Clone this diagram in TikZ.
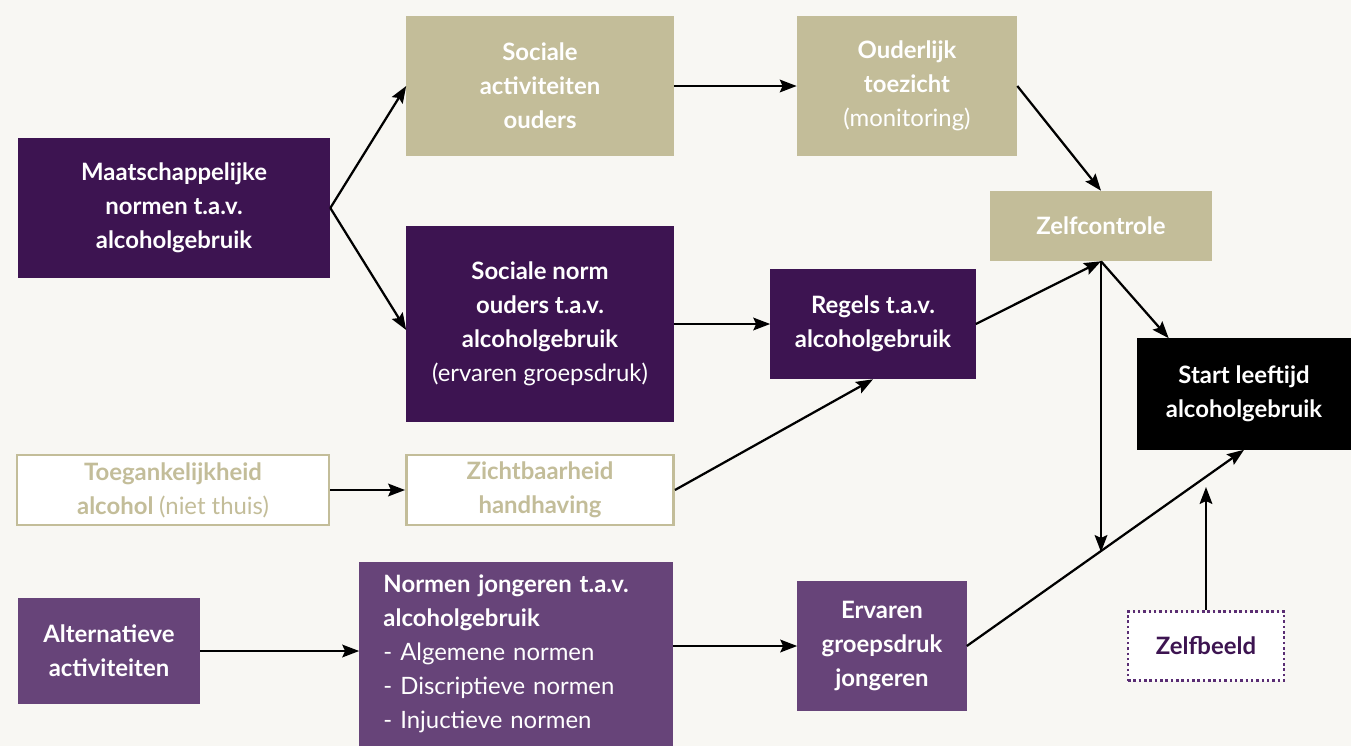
\documentclass[tikz,border=0pt]{standalone}
\usepackage{fontspec}
\setmainfont{Lato}
\usetikzlibrary{arrows.meta}

\definecolor{bgcol}{HTML}{F8F7F3}
\definecolor{tancol}{HTML}{C3BD99}
\definecolor{darkpurple}{HTML}{3D1451}
\definecolor{midpurple}{HTML}{674479}
\definecolor{dotpurple}{HTML}{5A2D73}

\begin{document}
\begin{tikzpicture}[x=0.025cm,y=-0.025cm,
	box/.style={inner sep=0pt,align=center,text=white,font=\fontsize{17}{24.1}\selectfont\bfseries},
	tanbox/.style={box,fill=tancol},
	darkbox/.style={box,fill=darkpurple},
	midbox/.style={box,fill=midpurple},
	blackbox/.style={box,fill=black},
	openbox/.style={box,fill=white,draw=tancol,line width=2pt,text=tancol},
	dotbox/.style={box,fill=white,draw=dotpurple,line width=1.8pt,dotted,text=darkpurple},
	arr/.style={line width=1.6pt,-{Stealth[length=12pt,width=9pt,inset=2pt]}}]
	\fill[bgcol] (0,0) rectangle (1351,746);
	\useasboundingbox (0,0) rectangle (1351,746);

	% bovenste rij
	\node[darkbox,minimum width=7.8cm,minimum height=3.5cm] (maat) at (174,208) {Maatschappelijke\\normen t.a.v.\\alcoholgebruik};
	\node[tanbox,minimum width=6.675cm,minimum height=3.475cm] (socact) at (540,86) {Sociale\\activiteiten\\ouders};
	\node[tanbox,minimum width=5.5cm,minimum height=3.475cm] (ouder) at (907,86) {Ouderlijk\\toezicht\\{\mdseries(monitoring)}};
	\node[tanbox,minimum width=5.525cm,minimum height=1.75cm] (zelfc) at (1101,226) {Zelfcontrole};

	% midden
	\node[darkbox,minimum width=6.675cm,minimum height=4.875cm] (socnorm) at (540,324) {Sociale norm\\ouders t.a.v.\\alcoholgebruik\\{\mdseries(ervaren groepsdruk)}};
	\node[darkbox,minimum width=5.125cm,minimum height=2.75cm] (regels) at (873,324) {Regels t.a.v.\\alcoholgebruik};
	\node[blackbox,minimum width=5.35cm,minimum height=2.775cm] (start) at (1244,394) {Start leeftijd\\alcoholgebruik};

	\node[openbox,minimum width=7.8cm,minimum height=1.75cm] (toeg) at (173,490) {Toegankelijkheid\\alcohol {\mdseries(niet thuis)}};
	\node[openbox,minimum width=6.675cm,minimum height=1.75cm] (zicht) at (540,490) {Zichtbaarheid\\handhaving};

	% onderste rij
	\node[midbox,minimum width=4.55cm,minimum height=2.625cm] (alt) at (109,651) {Alternatieve\\activiteiten};
	\node[midbox,minimum height=4.575cm,text width=6.625cm,inner xsep=0.6cm,align=left] (normen) at (516,654) {Normen jongeren t.a.v.\\alcoholgebruik\\{\mdseries - Algemene normen}\\{\mdseries - Discriptieve normen}\\{\mdseries - Injuctieve normen}};
	\node[midbox,minimum width=4.225cm,minimum height=3.225cm] (ervaren) at (882,646) {Ervaren\\groepsdruk\\jongeren};
	\node[dotbox,minimum width=3.9cm,minimum height=1.725cm] (zelfbeeld) at (1206,646) {Zelfbeeld};

	\coordinate (meet) at (1101,552);
	\coordinate (tip) at (1206,487);

	\draw[arr] (maat.east) -- (socact.west);
	\draw[arr] (maat.east) -- ([yshift=-0.15cm]socnorm.west);
	\draw[arr] (socact.east) -- (ouder.west);
	\draw[arr] (ouder.east) -- (zelfc.north);
	\draw[arr] (socnorm.east) -- (regels.west);
	\draw[arr] (regels.east) -- (zelfc.south);
	\draw[arr] (toeg.east) -- (zicht.west);
	\draw[arr] (zicht.east) -- (regels.south);
	\draw[arr] (alt.east) -- (alt.east -| normen.west);
	\draw[arr] (ervaren.west -| normen.east) -- (ervaren.west);
	\draw[arr] (ervaren.east) -- (start.south);
	\draw[arr] (zelfc.south) -- (meet);
	\draw[arr] (zelfc.south) -- ([xshift=0.8cm]start.north west);
	\draw[arr] (zelfbeeld.north) -- (tip);
\end{tikzpicture}
\end{document}
